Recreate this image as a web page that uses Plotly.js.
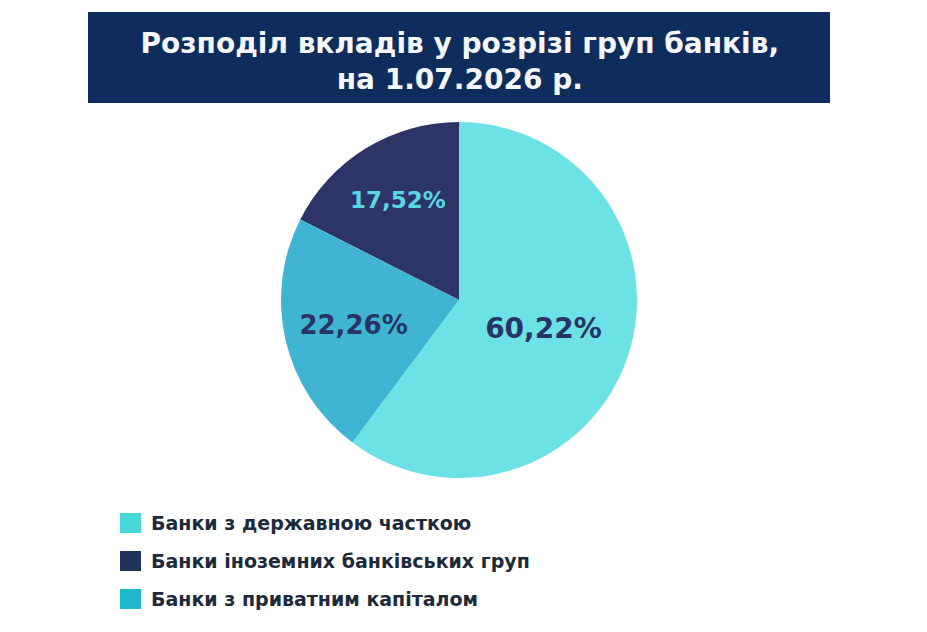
<!DOCTYPE html>
<html>
<head>
<meta charset="utf-8">
<script src="https://cdn.plot.ly/plotly-3.0.1.min.js"></script>
<style>
  html, body { margin: 0; padding: 0; background: #ffffff; }
  #chart { width: 927px; height: 632px; }
</style>
</head>
<body>
<div id="chart"></div>
<script>
"use strict";

// Bank groups, in legend order
const groups = [
  "Банки з державною часткою",
  "Банки іноземних банківських груп",
  "Банки з приватним капіталом",
];
const shares = [60.22, 17.52, 22.26];

const sliceColors = ["#6de2e6", "#2d3467", "#3fb5d3"];
const labelColors = ["#283466", "#5ad6e3", "#283466"];
const labelSizes = [28, 23, 26];
const swatchColors = ["#45d8d6", "#1f3358", "#1fb6c8"];

const W = 927, H = 632;
const px = (x) => x / W;
const py = (y) => 1 - y / H;

const trace = {
  type: "pie",
  labels: groups,
  values: shares,
  sort: false,
  direction: "counterclockwise",
  rotation: 0,
  domain: { x: [px(281), px(637)], y: [py(478), py(122)] },
  marker: { colors: sliceColors, line: { width: 0 } },
  texttemplate: "%{value:.2f}%",
  textposition: "inside",
  insidetextorientation: "horizontal",
  textfont: {
    family: "'DejaVu Sans', sans-serif",
    weight: 700,
    size: labelSizes,
    color: labelColors,
  },
  hovertemplate: "%{label}: %{value:.2f}%<extra></extra>",
  showlegend: false,
};

/* ── Legend drawn by hand to keep the reference's spacing ─────────────── */
const legendY = [523, 561, 599];
const shapes = [
  {
    type: "rect",
    xref: "paper", yref: "paper",
    x0: px(88), x1: px(830), y0: py(103), y1: py(12),
    fillcolor: "#0f2d5c",
    line: { width: 0 },
    layer: "below",
  },
];
const annotations = [];
groups.forEach((g, i) => {
  shapes.push({
    type: "rect",
    xref: "paper", yref: "paper",
    x0: px(120), x1: px(141),
    y0: py(legendY[i] + 10), y1: py(legendY[i] - 10),
    fillcolor: swatchColors[i],
    line: { width: 0 },
  });
  annotations.push({
    xref: "paper", yref: "paper",
    x: px(149), y: py(legendY[i]),
    xanchor: "left", yanchor: "middle",
    text: g,
    showarrow: false,
    font: { family: "'DejaVu Sans', sans-serif", size: 19, weight: 700, color: "#1c2a3b" },
  });
});

const layout = {
  width: W,
  height: H,
  paper_bgcolor: "#ffffff",
  margin: { t: 0, r: 0, b: 0, l: 0 },
  separators: ", ",
  title: {
    text: "Розподіл вкладів у розрізі груп банків,<br>на 1.07.2026 р.",
    x: 0.496,
    xanchor: "center",
    y: py(53),
    yanchor: "middle",
    font: { family: "'DejaVu Sans', sans-serif", size: 28, weight: 700, color: "#f4f6fa" },
  },
  shapes: shapes,
  annotations: annotations,
  showlegend: false,
};

Plotly.newPlot("chart", [trace], layout, { displayModeBar: false, responsive: false });
</script>
</body>
</html>
